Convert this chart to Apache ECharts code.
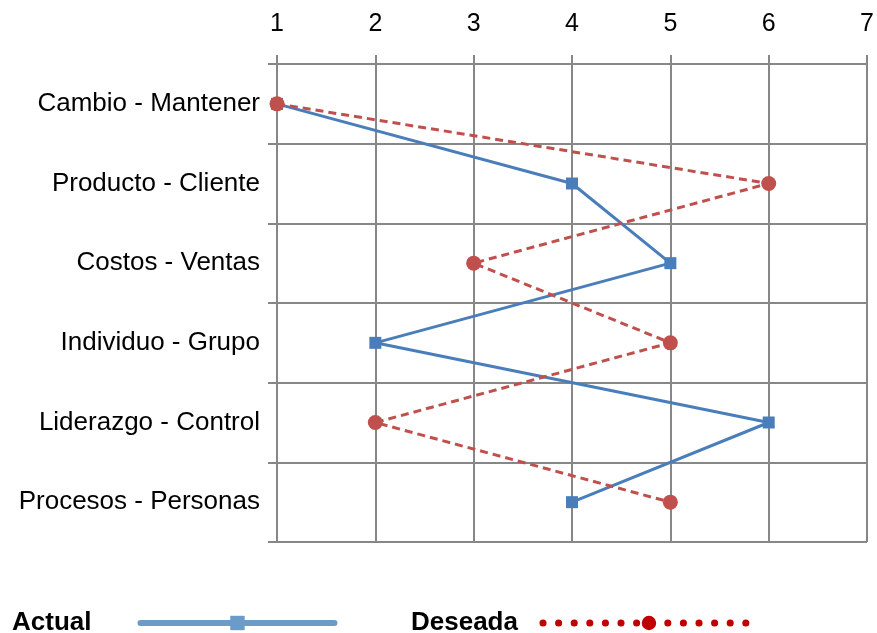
<!DOCTYPE html>
<html><head><meta charset="utf-8">
<script src="https://cdn.jsdelivr.net/npm/echarts@6/dist/echarts.min.js"></script>
<style>html,body{margin:0;padding:0;background:#fff}#c{width:877px;height:633px}</style>
</head><body><div id="c"></div>
<script>
const categories = ['Cambio - Mantener','Producto - Cliente','Costos - Ventas','Individuo - Grupo','Liderazgo - Control','Procesos - Personas'];
const actual = [1,4,5,2,6,4];
const deseada = [1,6,3,5,2,5];
const seriesNames = ['Actual','Deseada'];
const font = '"Liberation Sans", Arial, sans-serif';
const chart = echarts.init(document.getElementById('c'));
chart.setOption({
  animation:false,
  grid:{left:277,right:9,top:64,bottom:91},
  xAxis:{type:'value',position:'top',min:1,max:7,interval:1,
    axisLine:{show:true,lineStyle:{color:'#878787',width:2}},
    axisTick:{show:true,length:9,lineStyle:{color:'#878787',width:2}},
    splitLine:{show:true,lineStyle:{color:'#878787',width:2}},
    axisLabel:{color:'#000',fontSize:25,fontFamily:font,margin:27}},
  yAxis:{type:'category',inverse:true,data:categories,boundaryGap:true,
    axisLine:{show:false},
    axisTick:{show:true,length:9,lineStyle:{color:'#878787',width:2}},
    splitLine:{show:true,lineStyle:{color:'#878787',width:2}},
    axisLabel:{color:'#000',fontSize:26,fontFamily:font,margin:17}},
  legend:[
    {left:12,top:610,padding:0,itemWidth:194,itemHeight:18,align:'right',itemGap:0,
     data:[{name:'Actual',itemStyle:{color:'#6d9bc9'},lineStyle:{color:'#6d9bc9',width:6,cap:'round',type:'solid'}}],
     textStyle:{fontSize:26,fontWeight:'bold',fontFamily:font,color:'#000',padding:[0,44,0,0]}},
    {left:411,top:610,padding:0,itemWidth:212,itemHeight:18,align:'right',itemGap:0,
     data:[{name:'Deseada',itemStyle:{color:'#c00000'},lineStyle:{color:'#c00000',width:7,type:[0.1,15.5],cap:'round'}}],
     textStyle:{fontSize:26,fontWeight:'bold',fontFamily:font,color:'#000',padding:[0,20,0,0]}}
  ],
  series:[
    {name:seriesNames[0],type:'line',data:actual,symbol:'rect',symbolSize:12,
     lineStyle:{color:'#4a7ebb',width:3},itemStyle:{color:'#4a7ebb'},z:3},
    {name:seriesNames[1],type:'line',data:deseada,symbol:'circle',symbolSize:15,
     lineStyle:{color:'#c0504d',width:3,type:[8,5]},itemStyle:{color:'#c0504d'},z:4}
  ]
});
</script></body></html>
